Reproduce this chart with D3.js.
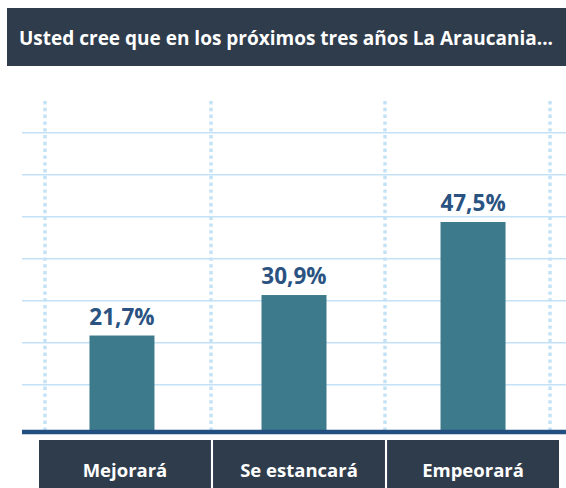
<!DOCTYPE html>
<html>
<head>
<meta charset="utf-8">
<script src="https://cdn.jsdelivr.net/npm/d3@7"></script>
<style>
  body { margin: 0; background: #fff; }
  svg { display: block; font-family: "Open Sans", "Noto Sans", sans-serif; }
</style>
</head>
<body>
<div id="chart"></div>
<script>
let title_text = "Usted cree que en los próximos tres años La Araucania...";

// data
let categories = ["Mejorará", "Se estancará", "Empeorará"];
let values = [21.7, 30.9, 47.5];
let value_labels = ["21,7%", "30,9%", "47,5%"];
let grid_steps = [1, 2, 3, 4, 5, 6, 7];

let width = 566,
  height = 488;

let svg = d3.select("#chart").append("svg")
  .attr("width", width)
  .attr("height", height);

// title bar
svg.append("rect")
  .attr("x", 7).attr("y", 8)
  .attr("width", width - 7).attr("height", 58)
  .attr("fill", "#2f3c4b");

let title = svg.append("text")
  .attr("x", 19).attr("y", 44.5)
  .attr("fill", "#fff")
  .attr("font-weight", 700)
  .attr("font-size", 20)
  .text(title_text);
// squeeze font size so the title fills the bar like the original
let tw = title.node().getComputedTextLength();
title.attr("font-size", 20 * 534 / tw);

// scales
let x = d3.scaleBand()
  .domain(categories)
  .range([39, 559])
  .paddingInner(0.012);

let y = d3.scaleLinear()
  .domain([0, 75])
  .range([431, 101]);

let gy = d3.scaleLinear()
  .domain([0, 8])
  .range([426.7, 90.7]);

// horizontal grid
svg.append("g").selectAll("line")
  .data(grid_steps)
  .join("line")
  .attr("x1", 22).attr("x2", width)
  .attr("y1", d => gy(d)).attr("y2", d => gy(d))
  .attr("stroke", "#c4e2f6")
  .attr("stroke-width", 1.6);

// dotted verticals on the band edges
let step = x.step(),
  gap = step - x.bandwidth();
let edges = [x.range()[0] + 6]
  .concat(categories.slice(1).map(c => x(c) - gap / 2 - 1))
  .concat([x.range()[1] - 9]);

svg.append("g").selectAll("line")
  .data(edges)
  .join("line")
  .attr("x1", d => d).attr("x2", d => d)
  .attr("y1", 101).attr("y2", 430)
  .attr("stroke", "#c4e2f6")
  .attr("stroke-width", 3.5)
  .attr("stroke-dasharray", "3.4,3.4");

// bars, nudged a little left like the original
let barW = 65;
let barX = (i) => x(categories[i]) + x.bandwidth() / 2 - barW / 2 - (i < 2 ? 3 + 2 * i : 0);
svg.append("g").selectAll("rect")
  .data(values)
  .join("rect")
  .attr("x", (d, i) => barX(i))
  .attr("y", d => y(d))
  .attr("width", barW)
  .attr("height", d => y(0) - y(d))
  .attr("fill", "#3d7a8b");

// value labels
svg.append("g").selectAll("text")
  .data(values)
  .join("text")
  .attr("x", (d, i) => barX(i) + barW / 2)
  .attr("y", d => y(d) - 11)
  .attr("text-anchor", "middle")
  .attr("fill", "#2a5382")
  .attr("font-weight", 700)
  .attr("font-size", 22.5)
  .text((d, i) => value_labels[i]);

// baseline
svg.append("line")
  .attr("x1", 22).attr("x2", width)
  .attr("y1", y(0) + 1).attr("y2", y(0) + 1)
  .attr("stroke", "#224f80")
  .attr("stroke-width", 4.5);

// category boxes
let boxes = svg.append("g").selectAll("g")
  .data(categories)
  .join("g");

boxes.append("rect")
  .attr("x", d => x(d))
  .attr("y", 440)
  .attr("width", x.bandwidth())
  .attr("height", height - 440)
  .attr("fill", "#2f3c4b");

boxes.append("text")
  .attr("x", d => x(d) + x.bandwidth() / 2)
  .attr("y", 476.5)
  .attr("text-anchor", "middle")
  .attr("fill", "#fff")
  .attr("font-weight", 700)
  .attr("font-size", 18.5)
  .text(d => d);
</script>
</body>
</html>
